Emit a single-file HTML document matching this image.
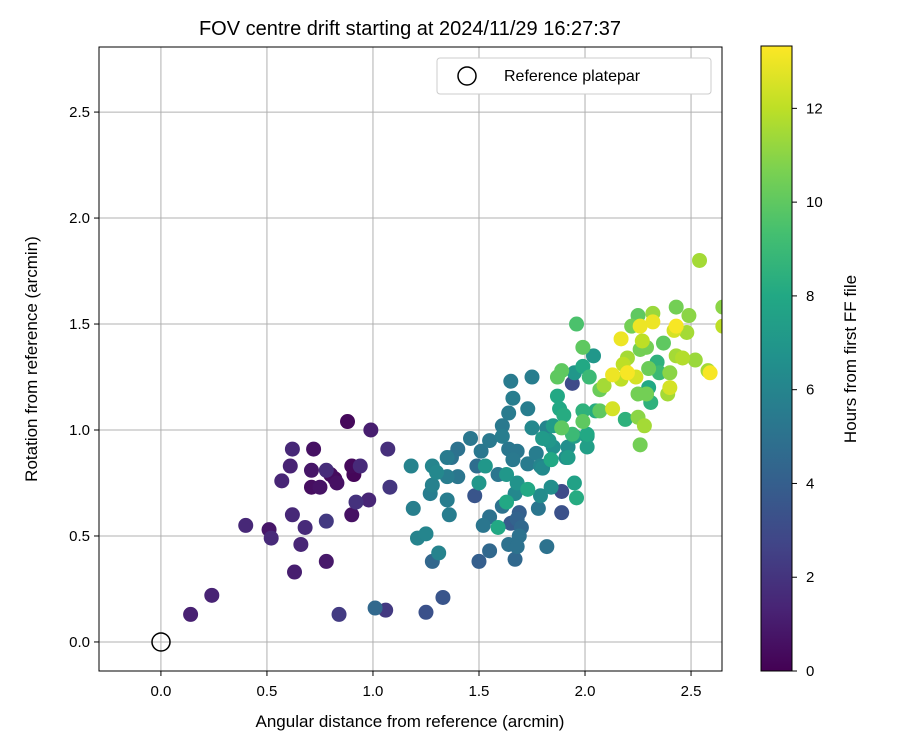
<!DOCTYPE html>
<html><head><meta charset="utf-8"><style>
body{margin:0;background:#fff;}
svg text{font-family:"Liberation Sans","DejaVu Sans",sans-serif;fill:#000;}
</style></head><body>
<svg id="chart" width="900" height="750" xmlns="http://www.w3.org/2000/svg">
<defs>
<clipPath id="plotClip"><rect x="99" y="47" width="623" height="624"/></clipPath>
<linearGradient id="viridis" x1="0" y1="1" x2="0" y2="0">
<stop offset="0" stop-color="#440154"/><stop offset="0.1" stop-color="#482475"/><stop offset="0.2" stop-color="#414487"/><stop offset="0.3" stop-color="#355f8d"/><stop offset="0.4" stop-color="#2a788e"/><stop offset="0.5" stop-color="#21918c"/><stop offset="0.6" stop-color="#22a884"/><stop offset="0.7" stop-color="#44bf70"/><stop offset="0.8" stop-color="#7ad151"/><stop offset="0.9" stop-color="#bddf26"/><stop offset="1" stop-color="#fde725"/>
</linearGradient>
</defs>
<text x="410" y="35" font-size="20" text-anchor="middle">FOV centre drift starting at 2024/11/29 16:27:37</text>
<g id="grid"></g>
<g id="points" clip-path="url(#plotClip)"></g>
<circle cx="161" cy="642" r="9" fill="none" stroke="#000" stroke-width="1.5"/>
<rect x="99" y="47" width="623" height="624" fill="none" stroke="#000" stroke-width="1"/>
<g id="ticks"></g>
<text x="410" y="727" font-size="17" text-anchor="middle">Angular distance from reference (arcmin)</text>
<text transform="translate(37,359) rotate(-90)" font-size="17" text-anchor="middle">Rotation from reference (arcmin)</text>
<g>
<rect x="437" y="58" width="274" height="36" rx="3" fill="#fff" stroke="#ccc"/>
<circle cx="467" cy="76" r="9" fill="none" stroke="#000" stroke-width="1.5"/>
<text x="504" y="81" font-size="16">Reference platepar</text>
</g>
<rect x="761" y="46" width="31" height="625" fill="url(#viridis)" stroke="#000" stroke-width="1"/>
<g id="cbticks"></g>
<text transform="translate(856,359) rotate(-90)" font-size="17" text-anchor="middle">Hours from first FF file</text>
</svg>
<script>
const xVals=[0.14,0.24,0.40,0.51,0.52,0.62,0.61,0.57,0.62,0.63,0.66,0.68,0.72,0.71,0.71,0.75,0.78,0.80,0.82,0.83,0.78,0.78,0.88,0.91,0.90,0.90,0.94,0.99,1.07,1.08,0.98,0.92,0.84,1.01,1.06,1.25,1.33,1.28,1.31,1.25,1.21,1.18,1.28,1.30,1.35,1.28,1.27,1.35,1.19,1.36,1.35,1.65,1.75,1.66,1.64,1.73,1.61,1.46,1.55,1.61,1.75,1.82,1.40,1.37,1.51,1.49,1.53,1.64,1.68,1.66,1.73,1.77,1.79,1.80,1.84,1.91,1.85,1.80,1.83,1.92,1.95,2.01,1.40,1.50,1.59,1.63,1.68,1.48,1.67,1.73,1.79,1.84,1.89,1.95,1.96,1.63,1.61,1.69,1.78,1.89,1.55,1.52,1.59,1.65,1.68,1.70,1.69,1.64,1.68,1.55,1.50,1.67,1.82,2.54,2.43,2.49,1.96,2.25,2.32,2.32,2.26,2.22,2.43,2.42,2.48,2.17,2.27,1.99,2.04,2.26,2.29,2.37,2.43,2.46,2.52,2.20,2.18,2.34,2.35,2.30,2.40,2.58,2.59,2.13,2.20,2.24,2.17,2.09,2.07,1.95,1.99,1.94,1.89,1.87,2.02,1.87,2.30,2.25,2.29,2.31,2.40,2.39,1.88,1.90,1.99,2.05,2.07,2.13,1.99,2.19,2.25,2.28,2.26,1.89,1.94,2.01,2.01,1.85,1.84,1.92,2.65,2.65];
const yVals=[0.13,0.22,0.55,0.53,0.49,0.91,0.83,0.76,0.60,0.33,0.46,0.54,0.91,0.81,0.73,0.73,0.81,0.79,0.77,0.75,0.38,0.57,1.04,0.79,0.83,0.60,0.83,1.00,0.91,0.73,0.67,0.66,0.13,0.16,0.15,0.14,0.21,0.38,0.42,0.51,0.49,0.83,0.83,0.80,0.78,0.74,0.70,0.67,0.63,0.60,0.87,1.23,1.25,1.15,1.08,1.10,1.02,0.96,0.95,0.97,1.01,1.01,0.91,0.87,0.90,0.83,0.83,0.91,0.90,0.86,0.84,0.89,0.83,0.82,0.86,0.87,0.92,0.96,0.95,0.92,0.97,0.97,0.78,0.75,0.79,0.79,0.75,0.69,0.70,0.72,0.69,0.73,0.71,0.75,0.68,0.66,0.64,0.61,0.63,0.61,0.59,0.55,0.54,0.56,0.58,0.54,0.50,0.46,0.45,0.43,0.38,0.39,0.45,1.80,1.58,1.54,1.50,1.54,1.55,1.51,1.49,1.49,1.49,1.47,1.46,1.43,1.42,1.39,1.35,1.38,1.39,1.41,1.35,1.34,1.33,1.34,1.31,1.32,1.27,1.29,1.27,1.28,1.27,1.26,1.27,1.25,1.24,1.21,1.19,1.27,1.30,1.22,1.28,1.25,1.25,1.16,1.20,1.17,1.17,1.13,1.20,1.17,1.10,1.07,1.09,1.09,1.09,1.10,1.04,1.05,1.06,1.02,0.93,1.01,0.98,0.98,0.92,1.02,0.86,0.87,1.58,1.49];
const hours=[1.2,1.3,1.5,0.8,1.6,1.5,1.3,1.4,1.5,1.1,1.4,1.6,0.6,0.8,0.5,0.7,1.7,0.4,0.3,0.6,0.9,2.2,0.3,0.2,0.3,0.6,1.6,1.1,1.8,2.1,1.4,1.9,2.3,4.5,2.2,3.3,3.5,4.4,5.9,6.0,5.9,5.9,6.0,6.2,5.6,5.8,5.6,5.6,5.7,5.6,5.5,5.5,5.6,5.6,5.5,5.6,5.4,5.3,5.4,5.6,6.2,6.0,5.0,5.0,5.3,4.8,7.0,5.3,5.3,5.4,5.5,5.6,6.0,6.3,7.0,6.5,6.6,7.2,7.0,6.5,7.5,7.3,5.2,7.0,5.2,7.0,6.8,3.5,6.2,8.0,6.4,6.5,3.0,7.6,8.2,8.0,5.0,4.0,5.2,3.3,5.0,5.2,8.0,3.8,4.2,4.5,5.0,5.0,5.0,4.5,4.0,4.5,5.0,11.5,10.5,11.0,9.5,10.0,11.3,13.0,13.0,10.5,13.2,12.5,11.5,13.0,12.0,10.0,7.0,10.5,10.5,10.0,11.5,11.8,11.3,11.5,12.0,8.5,9.0,10.3,11.0,11.5,13.2,13.0,13.2,12.5,12.0,11.5,10.3,7.0,8.0,3.0,10.0,10.0,9.0,8.0,8.0,10.5,10.5,8.5,12.5,11.5,8.0,8.2,8.5,8.2,10.0,12.5,10.0,8.5,11.0,11.5,10.5,10.0,9.0,8.0,7.5,7.3,8.0,7.3,11.0,12.0];
const xTicks=["−0.5","0.0","0.5","1.0","1.5","2.0","2.5"];
const xTickVals=[-0.5,0,0.5,1,1.5,2,2.5];
const yTickVals=[0,0.5,1,1.5,2,2.5];
const yTicks=["0.0","0.5","1.0","1.5","2.0","2.5"];
const cbTickVals=[0,2,4,6,8,10,12];

const X0=99,X1=722,Y0=47,Y1=671;
const xMin=-0.292,xMax=2.646,yMin=-0.137,yMax=2.807,hMax=13.33;
const sx=v=>X0+(v-xMin)/(xMax-xMin)*(X1-X0);
const sy=v=>Y1-(v-yMin)/(yMax-yMin)*(Y1-Y0);
const sc=v=>671-v/hMax*625;
const NS="http://www.w3.org/2000/svg";
const stops=[[68,1,84],[72,36,117],[65,68,135],[53,95,141],[42,120,142],[33,145,140],[34,168,132],[68,191,112],[122,209,81],[189,223,38],[253,231,37]];
function viridis(t){t=Math.max(0,Math.min(1,t))*10;const i=Math.min(9,Math.floor(t)),f=t-i;const a=stops[i],b=stops[i+1];return `rgb(${a.map((c,k)=>Math.round(c+(b[k]-c)*f)).join(',')})`;}
function mk(tag,attrs,parent){const e=document.createElementNS(NS,tag);for(const k in attrs)e.setAttribute(k,attrs[k]);parent.appendChild(e);return e;}
const grid=document.getElementById('grid'),ticks=document.getElementById('ticks');
xTickVals.forEach((v,i)=>{const x=sx(v);if(x<X0||x>X1)return;
const g=mk('line',{x1:x,x2:x,y1:Y0,y2:Y1,stroke:'#b0b0b0','stroke-width':1},grid);


const t=mk('line',{x1:x,x2:x,y1:Y1,y2:Y1+5,stroke:'#000'},ticks);


const l=mk('text',{x:x,y:Y1+25,'font-size':15,'text-anchor':'middle'},ticks);l.textContent=xTicks[i];

});
yTickVals.forEach((v,i)=>{const y=sy(v);
const g=mk('line',{x1:X0,x2:X1,y1:y,y2:y,stroke:'#b0b0b0','stroke-width':1},grid);


const t=mk('line',{x1:X0-5,x2:X0,y1:y,y2:y,stroke:'#000'},ticks);


const l=mk('text',{x:X0-9,y:y+5,'font-size':15,'text-anchor':'end'},ticks);l.textContent=yTicks[i];

});
const pts=document.getElementById('points');
const order=hours.map((h,i)=>i).sort((a,b)=>hours[a]-hours[b]);
order.forEach(i=>{const c=mk('circle',{cx:sx(xVals[i]),cy:sy(yVals[i]),r:7.5,fill:viridis(hours[i]/hMax)},pts);

});
const cb=document.getElementById('cbticks');
cbTickVals.forEach(v=>{const y=sc(v);
const t=mk('line',{x1:792,x2:797,y1:y,y2:y,stroke:'#000'},cb);


const l=mk('text',{x:806,y:y+5,'font-size':15},cb);l.textContent=v;

});
</script>
</body></html>
